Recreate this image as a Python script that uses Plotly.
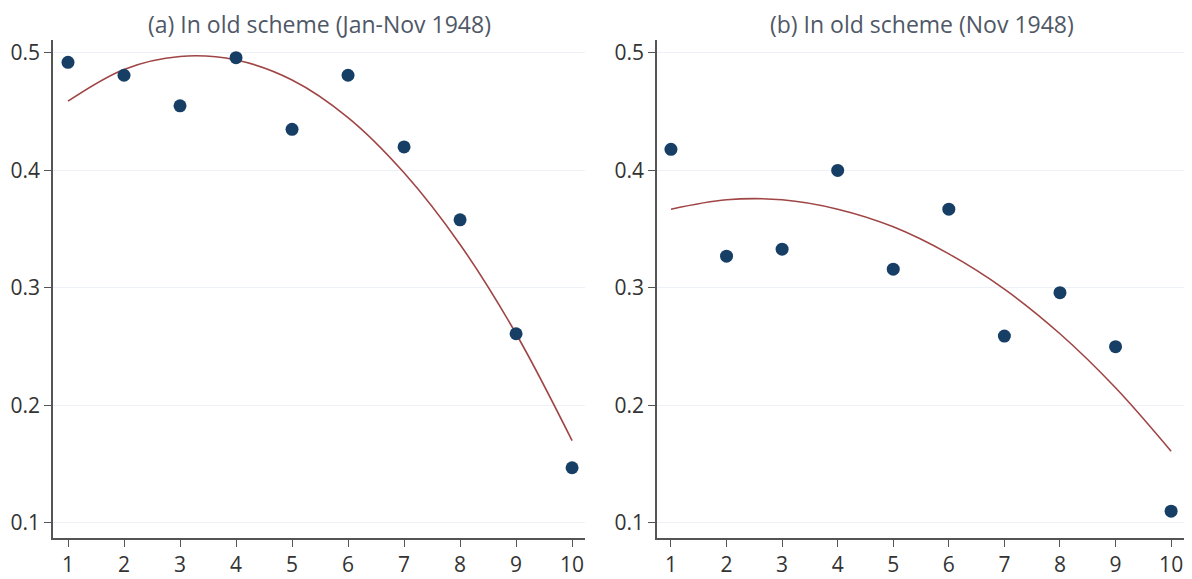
import plotly.graph_objects as go

# deciles
deciles = [1, 2, 3, 4, 5, 6, 7, 8, 9, 10]

# (a) Jan-Nov 1948
share_a = [0.492, 0.481, 0.455, 0.496, 0.435, 0.481, 0.420, 0.358, 0.261, 0.147]
fit_a = [0.459, 0.486, 0.497, 0.494, 0.477, 0.445, 0.398, 0.337, 0.261, 0.170]

# (b) Nov 1948
share_b = [0.418, 0.327, 0.333, 0.400, 0.316, 0.367, 0.259, 0.296, 0.250, 0.110]
fit_b = [0.367, 0.375, 0.375, 0.367, 0.352, 0.329, 0.299, 0.261, 0.215, 0.161]

titles = ["(a) In old scheme (Jan-Nov 1948)", "(b) In old scheme (Nov 1948)"]

dot_col = "#173f66"
line_col = "#a04545"
font_fam = "Open Sans"

fig = go.Figure()

for i, (pts, fit) in enumerate([(share_a, fit_a), (share_b, fit_b)]):
    xa = "x" if i == 0 else "x2"
    ya = "y" if i == 0 else "y2"
    fig.add_trace(go.Scatter(x=deciles, y=fit, mode="lines", line=dict(color=line_col, width=1.6, shape="spline"),
                             xaxis=xa, yaxis=ya, showlegend=False))
    fig.add_trace(go.Scatter(x=deciles, y=pts, mode="markers", marker=dict(color=dot_col, size=13),
                             xaxis=xa, yaxis=ya, showlegend=False))

ax_style = dict(showline=True, linecolor="#555", linewidth=1.6, ticks="outside", ticklen=7,
                tickcolor="#555", tickwidth=1.4, tickfont=dict(size=21, color="#333", family=font_fam),
                zeroline=False, automargin=False)

# page body has an 8px margin, so the figure is kept smaller than the window
fig.update_layout(
    width=1184, height=571,
    margin=dict(l=0, r=0, t=32, b=41),
    plot_bgcolor="white", paper_bgcolor="white",
    xaxis=dict(domain=[0.0380, 0.4873], range=[0.732, 10.23], tickvals=deciles, showgrid=False, **ax_style),
    yaxis=dict(range=[0.0872, 0.511], tickvals=[0.1, 0.2, 0.3, 0.4, 0.5], showgrid=True, gridcolor="#edf1f7",
               **ax_style),
    xaxis2=dict(domain=[0.5481, 0.9941], range=[0.748, 10.25], tickvals=deciles, showgrid=False, anchor="y2",
                **ax_style),
    yaxis2=dict(range=[0.0872, 0.511], tickvals=[0.1, 0.2, 0.3, 0.4, 0.5], showgrid=True, gridcolor="#edf1f7",
                anchor="x2", **ax_style),
    annotations=[
        dict(text=titles[0], x=0.2635, y=1.0, xref="paper", yref="paper", yshift=16, showarrow=False,
             xanchor="center", yanchor="middle", font=dict(size=23, color="#4f5866", family=font_fam)),
        dict(text=titles[1], x=0.7720, y=1.0, xref="paper", yref="paper", yshift=16, showarrow=False,
             xanchor="center", yanchor="middle", font=dict(size=23, color="#4f5866", family=font_fam)),
    ],
)

fig.write_html("out.html")
